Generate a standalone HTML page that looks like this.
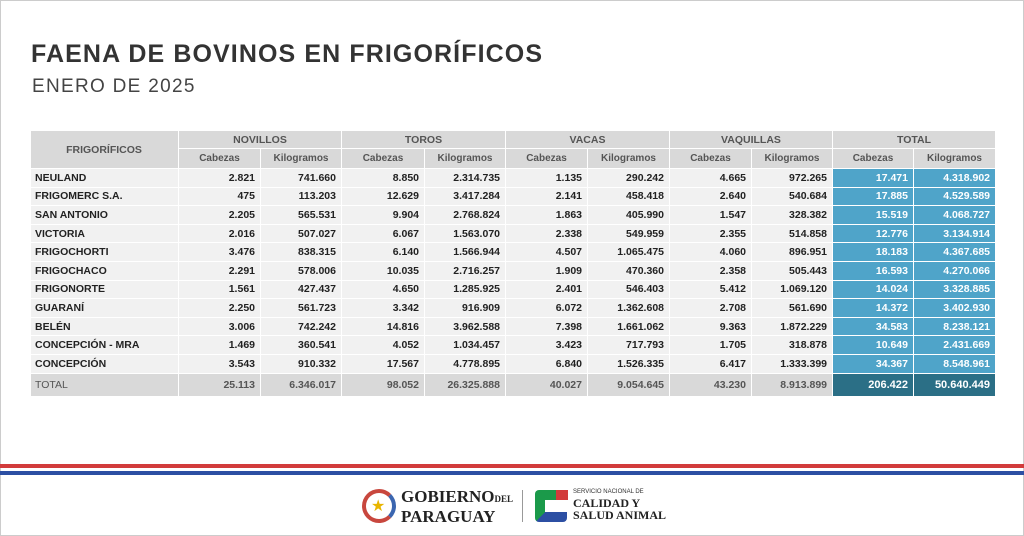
<!DOCTYPE html>
<html><head><meta charset="utf-8"><style>
*{margin:0;padding:0;box-sizing:border-box}
body{width:1024px;height:536px;background:#fff;font-family:"Liberation Sans",sans-serif;position:relative;overflow:hidden}
.frame{position:absolute;left:0;top:0;width:1024px;height:536px;border:1px solid #ccc}
h1{position:absolute;left:31px;top:40px;font-size:25px;font-weight:bold;color:#333;letter-spacing:1.1px}
h2{position:absolute;left:32px;top:76px;font-size:19px;font-weight:normal;color:#444;letter-spacing:1.3px}
table{position:absolute;left:30px;top:130px;border-collapse:collapse;font-size:10.5px;font-weight:bold;color:#222}
td{border:1px solid #fff;height:18.6px;padding:0 5px;text-align:right;background:#f1f1f1}
td.n{text-align:left;width:148px;padding-left:4px}
.h td{background:#d9d9d9;color:#555;text-align:center;height:18px}
.h2 td{height:20px;font-size:10px}
.t{background:#4fa4c9!important;color:#fff}
.tr td{background:#d9d9d9;color:#555;height:23px}
.tr td.t{background:#2b6f86!important;color:#fff;font-size:11px}
.lines{position:absolute;left:0;width:1024px}
</style></head><body>
<div class="frame"></div>
<h1>FAENA DE BOVINOS EN FRIGORÍFICOS</h1>
<h2>ENERO DE 2025</h2>
<table>
<tr class="h"><td class="n" rowspan="2" style="text-align:center">FRIGORÍFICOS</td><td colspan="2">NOVILLOS</td><td colspan="2">TOROS</td><td colspan="2">VACAS</td><td colspan="2">VAQUILLAS</td><td colspan="2">TOTAL</td></tr>
<tr class="h h2"><td style="width:82px">Cabezas</td><td style="width:81px">Kilogramos</td><td style="width:83px">Cabezas</td><td style="width:81px">Kilogramos</td><td style="width:82px">Cabezas</td><td style="width:82px">Kilogramos</td><td style="width:82px">Cabezas</td><td style="width:81px">Kilogramos</td><td style="width:81px">Cabezas</td><td style="width:82px">Kilogramos</td></tr>
<tr><td class="n">NEULAND</td><td>2.821</td><td>741.660</td><td>8.850</td><td>2.314.735</td><td>1.135</td><td>290.242</td><td>4.665</td><td>972.265</td><td class="t">17.471</td><td class="t">4.318.902</td></tr>
<tr><td class="n">FRIGOMERC S.A.</td><td>475</td><td>113.203</td><td>12.629</td><td>3.417.284</td><td>2.141</td><td>458.418</td><td>2.640</td><td>540.684</td><td class="t">17.885</td><td class="t">4.529.589</td></tr>
<tr><td class="n">SAN ANTONIO</td><td>2.205</td><td>565.531</td><td>9.904</td><td>2.768.824</td><td>1.863</td><td>405.990</td><td>1.547</td><td>328.382</td><td class="t">15.519</td><td class="t">4.068.727</td></tr>
<tr><td class="n">VICTORIA</td><td>2.016</td><td>507.027</td><td>6.067</td><td>1.563.070</td><td>2.338</td><td>549.959</td><td>2.355</td><td>514.858</td><td class="t">12.776</td><td class="t">3.134.914</td></tr>
<tr><td class="n">FRIGOCHORTI</td><td>3.476</td><td>838.315</td><td>6.140</td><td>1.566.944</td><td>4.507</td><td>1.065.475</td><td>4.060</td><td>896.951</td><td class="t">18.183</td><td class="t">4.367.685</td></tr>
<tr><td class="n">FRIGOCHACO</td><td>2.291</td><td>578.006</td><td>10.035</td><td>2.716.257</td><td>1.909</td><td>470.360</td><td>2.358</td><td>505.443</td><td class="t">16.593</td><td class="t">4.270.066</td></tr>
<tr><td class="n">FRIGONORTE</td><td>1.561</td><td>427.437</td><td>4.650</td><td>1.285.925</td><td>2.401</td><td>546.403</td><td>5.412</td><td>1.069.120</td><td class="t">14.024</td><td class="t">3.328.885</td></tr>
<tr><td class="n">GUARANÍ</td><td>2.250</td><td>561.723</td><td>3.342</td><td>916.909</td><td>6.072</td><td>1.362.608</td><td>2.708</td><td>561.690</td><td class="t">14.372</td><td class="t">3.402.930</td></tr>
<tr><td class="n">BELÉN</td><td>3.006</td><td>742.242</td><td>14.816</td><td>3.962.588</td><td>7.398</td><td>1.661.062</td><td>9.363</td><td>1.872.229</td><td class="t">34.583</td><td class="t">8.238.121</td></tr>
<tr><td class="n">CONCEPCIÓN - MRA</td><td>1.469</td><td>360.541</td><td>4.052</td><td>1.034.457</td><td>3.423</td><td>717.793</td><td>1.705</td><td>318.878</td><td class="t">10.649</td><td class="t">2.431.669</td></tr>
<tr><td class="n">CONCEPCIÓN</td><td>3.543</td><td>910.332</td><td>17.567</td><td>4.778.895</td><td>6.840</td><td>1.526.335</td><td>6.417</td><td>1.333.399</td><td class="t">34.367</td><td class="t">8.548.961</td></tr>
<tr class="tr"><td class="n" style="font-weight:normal">TOTAL</td><td>25.113</td><td>6.346.017</td><td>98.052</td><td>26.325.888</td><td>40.027</td><td>9.054.645</td><td>43.230</td><td>8.913.899</td><td class="t">206.422</td><td class="t">50.640.449</td></tr>
</table>
<div class="lines" style="top:464px;height:4px;background:#d23b3b"></div>
<div class="lines" style="top:471px;height:4px;background:#2c4fa3"></div>
<div style="position:absolute;left:362px;top:489px;width:34px;height:34px;border-radius:50%;border:4px solid #c8473e;border-right-color:#3b66b0;background:#fff"></div>
<div style="position:absolute;left:371px;top:496px;font-size:16px;color:#e8b500">★</div>
<div style="position:absolute;left:401px;top:488px;font-family:'Liberation Serif',serif;font-weight:bold;font-size:17px;line-height:17px;color:#222">GOBIERNO<span style="font-size:9px">DEL</span><br>PARAGUAY</div>
<div style="position:absolute;left:522px;top:490px;width:1px;height:32px;background:#999"></div>
<div style="position:absolute;left:535px;top:490px;width:32px;height:32px;background:linear-gradient(135deg,#1b9a4a 50%,#2c4fa3 50%);border-radius:4px"></div>
<div style="position:absolute;left:545px;top:500px;width:22px;height:12px;background:#fff"></div>
<div style="position:absolute;left:556px;top:490px;width:12px;height:10px;background:#d23b3b"></div>
<div style="position:absolute;left:573px;top:489px;font-size:6px;color:#333">SERVICIO NACIONAL DE</div>
<div style="position:absolute;left:573px;top:497px;font-family:'Liberation Serif',serif;font-weight:bold;font-size:12px;line-height:12px;color:#222">CALIDAD Y<br>SALUD ANIMAL</div>
</body></html>
